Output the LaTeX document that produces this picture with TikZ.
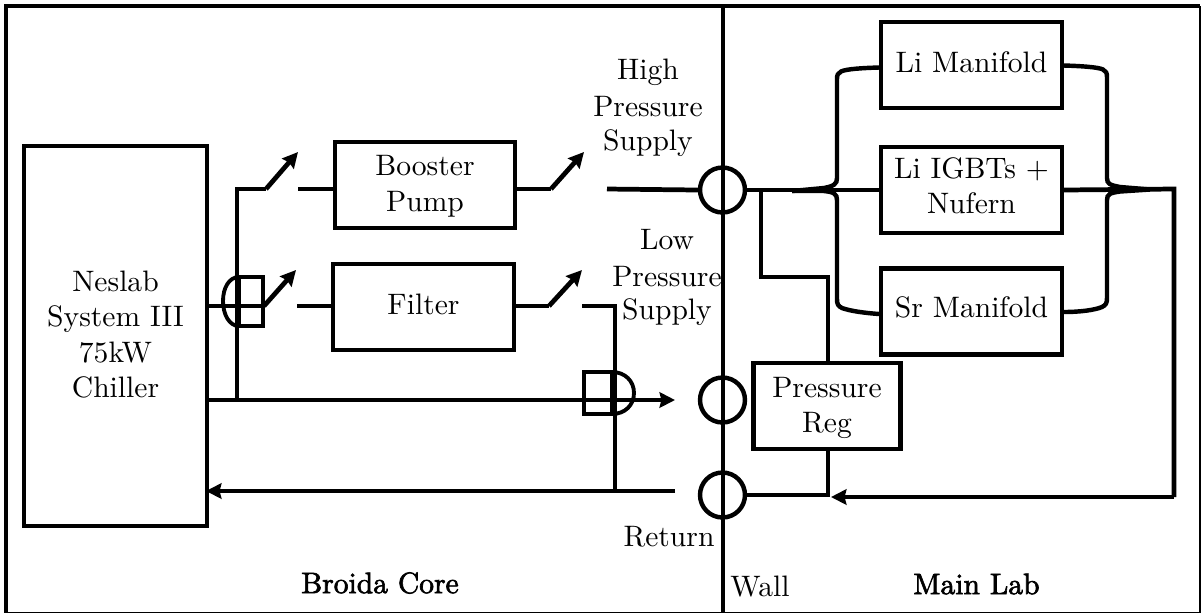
\documentclass[tikz,border=0pt]{standalone}
\usetikzlibrary{arrows.meta}
\font\semibold="[lmroman10-regular]:mapping=tex-text;embolden=2.2" at 10pt
\newcommand\liftext[2]{\raisebox{#1}[\height][\depth]{\begin{tabular}{@{}c@{}}#2\end{tabular}}}
\tikzset{
  boxnode/.style={draw,line width=1.5pt,inner sep=0pt,align=center,minimum width=61pt,minimum height=29pt,font=\fontsize{10}{12}\selectfont},
  pipe/.style={line width=1.6pt,line join=miter},
  bracepipe/.style={line width=1.5pt},
  pipearrow/.style={pipe,-{Stealth[length=5.2pt,width=5.2pt,inset=0.6pt]}},
  valve/.style={draw,circle,line width=1.5pt,minimum size=15.2pt,inner sep=0pt},
  hop/.style={line width=1.3pt},
  label/.style={align=center,inner sep=0pt,font=\fontsize{10}{12.1}\selectfont},
  rooml/.style={inner sep=0pt,font=\semibold}
}
\begin{document}
\begin{tikzpicture}[x=0.338pt,y=-0.338pt]
\useasboundingbox (0,0) rectangle (1202,614);
% frame and wall
\coordinate (wt) at (723,6); \coordinate (wb) at (723,612);
\draw[line width=1.3pt] (1200,6) -- (6,6) -- (6,612.5);
\draw[line width=0.6pt] (1200,6) -- (1200,612.5) -- (6,612.5);
\draw[line width=1.4pt] (wt) -- (wb);
% boxes
\node[boxnode,minimum width=61.9pt,minimum height=128.4pt] (chiller) at (115.5,336) {\liftext{-0.4pt}{Neslab\\System III\\75kW\\Chiller}};
\node[boxnode] (booster) at (425,185) {\liftext{-0.4pt}{Booster\\Pump}};
\node[boxnode] (filter) at (423.5,307) {\liftext{0pt}{Filter}};
\node[boxnode] (liman) at (971.5,65) {\liftext{0pt}{Li Manifold}};
\node[boxnode] (igbt) at (971.5,190) {\liftext{0.4pt}{Li IGBTs +\\Nufern}};
\node[boxnode] (srman) at (971.5,311.5) {\liftext{0.4pt}{Sr Manifold}};
\node[boxnode,minimum width=49.7pt] (preg) at (827,406) {\liftext{-0.7pt}{Pressure\\Reg}};
% valves
\node[valve] (vhigh) at (722.5,190) {};
\node[valve] (vlow) at (722.5,400) {};
\node[valve] (vret) at (722.5,495) {};
% coordinates
\coordinate (s1a) at (266,189); \coordinate (s1t) at (298,152); \coordinate (s1b) at (298,189);
\coordinate (s2a) at (551,189); \coordinate (s2t) at (584,152); \coordinate (s2b) at (607,189);
\coordinate (s3a) at (264,306); \coordinate (s3t) at (296,270); \coordinate (s3b) at (297,306);
\coordinate (s4a) at (549,306); \coordinate (s4t) at (582,270); \coordinate (s4b) at (582,306);
\coordinate (j1) at (237,400); \coordinate (j2) at (237,189);
\coordinate (m1) at (207,400); \coordinate (m2) at (675,400);
\coordinate (r1) at (675,491); \coordinate (r2) at (206,491);
\coordinate (k1) at (615,306); \coordinate (k2) at (615,491);
\coordinate (t1) at (761,190); \coordinate (t2) at (761,277); \coordinate (t3) at (828,277);
\coordinate (u1) at (828,495);
\coordinate (q1) at (1174,189); \coordinate (q2) at (1174,497); \coordinate (q3) at (831,497);
% left row lines
\draw[pipe] (j1) -- (j2) -- (s1a);
\draw[pipearrow] (s1a) -- (s1t);
\draw[pipe] (s1b) -- (booster.west |- s1b);
\draw[pipe] (booster.east |- s2a) -- (s2a);
\draw[pipearrow] (s2a) -- (s2t);
\draw[pipe] (s2b) -- (vhigh.west);
\draw[pipe] (chiller.east |- s3a) -- (s3a);
\draw[pipearrow] (s3a) -- (s3t);
\draw[pipe] (s3b) -- (filter.west |- s3b);
\draw[pipe] (filter.east |- s4a) -- (s4a);
\draw[pipearrow] (s4a) -- (s4t);
\draw[pipe] (s4b) -- (k1) -- (k2);
\draw[pipearrow] (m1) -- (m2);
\draw[pipearrow] (r1) -- (r2);
% hop symbols
\draw[hop] (239,277) rectangle (263,326);
\draw[hop] (239,277) .. controls (229,277) and (223,288) .. (223,301) .. controls (223,314) and (229,326) .. (239,326);
\draw[hop] (584,372) rectangle (612,414);
\draw[hop] (612,372) .. controls (625,372) and (634,381) .. (634,393) .. controls (634,405) and (625,414) .. (612,414);
% right side
\draw[pipe] (vhigh.east) -- (igbt.west);
\draw[pipe] (t1) -- (t2) -- (t3) -- (preg.north -| t3);
\draw[pipe] (preg.south -| u1) -- (u1) -- (vret.east);
\draw[pipe] (igbt.east) -- (q1) -- (q2);
\draw[pipearrow] (q2) -- (q3);
% manifolds
\draw[bracepipe] (liman.west |- 0,67.5) .. controls (862,68) and (846,69) .. (841,71.5) .. controls (838,73) and (837,75) .. (837,79) -- (837,178) .. controls (837,184) and (834,186) .. (824,188) -- (792,191);
\draw[bracepipe] (792,191) -- (824,191) .. controls (834,192) and (837,194) .. (837,200) -- (837,299) .. controls (837,304) and (838,306) .. (842,308) .. controls (850,311) and (865,313) .. (srman.west |- 0,314);
\draw[bracepipe] (liman.east |- 0,65.5) .. controls (1080,66) and (1098,67) .. (1103,69.5) .. controls (1106,71) and (1107,73) .. (1107,77) -- (1107,178) .. controls (1107,184) and (1110,185) .. (1120,187) -- (1150,189.5);
\draw[bracepipe] (1150,189.5) -- (1120,191.5) .. controls (1110,193) and (1107,194) .. (1107,200) -- (1107,298) .. controls (1107,303) and (1106,305) .. (1102,307) .. controls (1095,310) and (1080,312) .. (srman.east |- 0,312);
% labels
\node[label] at (648,72) {High};
\node[label] at (648,107) {Pressure};
\node[label] at (648,143) {Supply};
\node[label] at (667,240) {Low};
\node[label] at (667,277) {Pressure};
\node[label] at (667,312) {Supply};
\node[label] at (669,537) {Return};
\node[label] at (760,587) {Wall};
\node[rooml] at (380,583) {Broida Core};
\node[rooml] at (976.5,584) {Main Lab};
\end{tikzpicture}
\end{document}
